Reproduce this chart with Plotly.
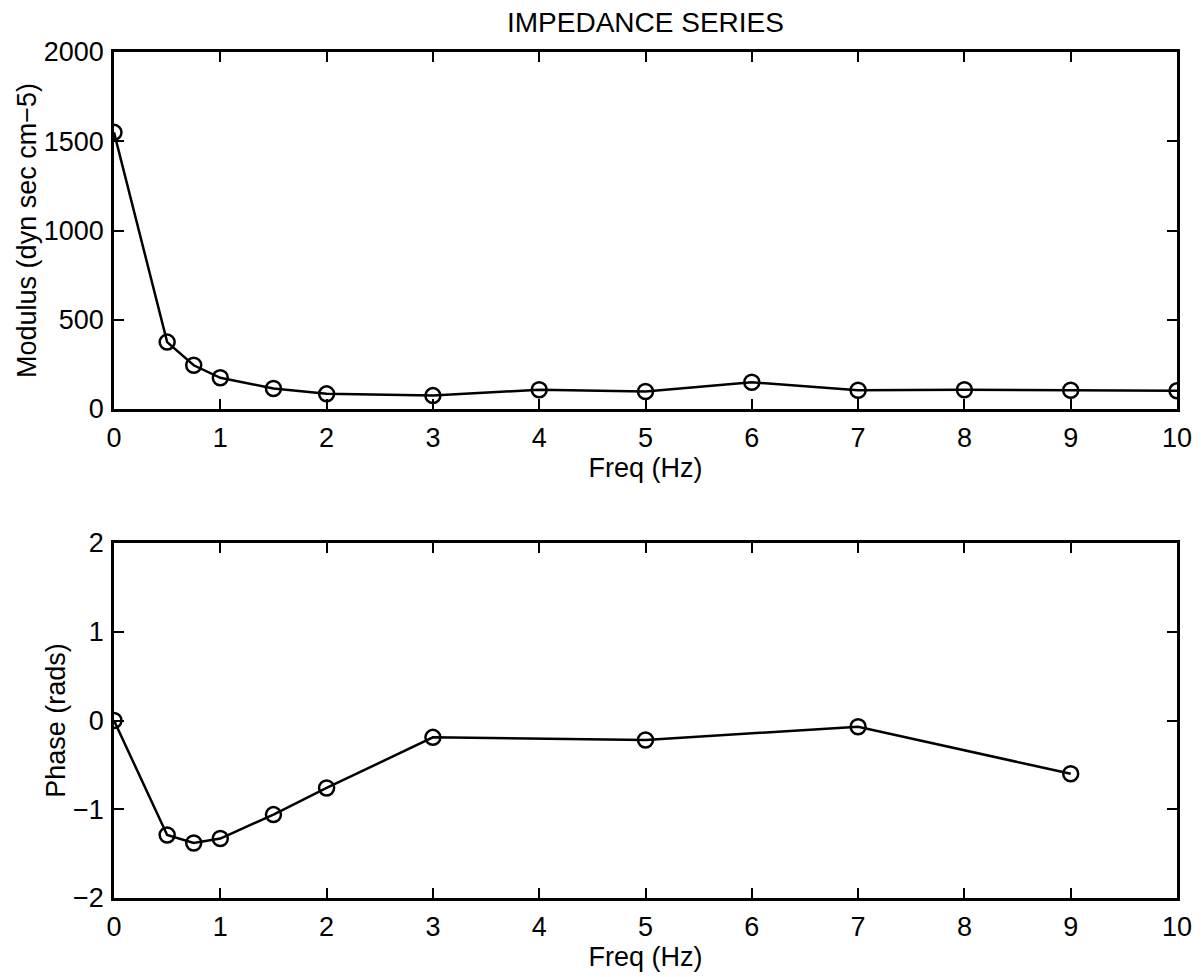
import plotly.graph_objects as go
from plotly.subplots import make_subplots

# Impedance series: modulus and phase against frequency
mod_freq = [0, 0.5, 0.75, 1, 1.5, 2, 3, 4, 5, 6, 7, 8, 9, 10]
modulus = [1550, 375, 245, 175, 115, 85, 75, 108, 98, 150, 105, 108, 105, 102]

phase_freq = [0, 0.5, 0.75, 1, 1.5, 2, 3, 5, 7, 9]
phase = [0.0, -1.29, -1.38, -1.33, -1.06, -0.76, -0.19, -0.22, -0.07, -0.6]

x_ticks = list(range(0, 11))
mod_ticks = [0, 500, 1000, 1500, 2000]
phase_ticks = [-2, -1, 0, 1, 2]
phase_ticktext = ["\u22122", "\u22121", "0", "1", "2"]

FONT = "Liberation Sans"
FS = 27

fig = make_subplots(rows=2, cols=1, vertical_spacing=0.0)

line_style = dict(color="black", width=2.5)
marker_style = dict(symbol="circle-open", size=15, color="black",
                    line=dict(color="black", width=2.5))

fig.add_trace(go.Scatter(x=mod_freq, y=modulus, mode="lines+markers",
                         line=line_style, marker=marker_style,
                         showlegend=False), row=1, col=1)
fig.add_trace(go.Scatter(x=phase_freq, y=phase, mode="lines+markers",
                         line=line_style, marker=marker_style,
                         showlegend=False), row=2, col=1)

axis_common = dict(showline=True, linecolor="black", linewidth=2.5,
                   mirror="ticks", ticks="inside", ticklen=10,
                   tickwidth=2, tickcolor="black", showgrid=False,
                   zeroline=False,
                   tickfont=dict(family=FONT, size=FS, color="black"))

title_font = dict(family=FONT, size=FS, color="black")

fig.update_xaxes(range=[0, 10], tickvals=x_ticks, ticklabelstandoff=3,
                 title=dict(text="Freq (Hz)", standoff=0, font=title_font),
                 **axis_common)

fig.update_yaxes(range=[0, 2000], tickvals=mod_ticks, row=1, col=1,
                 ticklabelstandoff=2,
                 title=dict(text="Modulus (dyn sec cm\u22125)", standoff=0,
                            font=title_font),
                 **axis_common)
fig.update_yaxes(range=[-2, 2], tickvals=phase_ticks, ticktext=phase_ticktext,
                 row=2, col=1, ticklabelstandoff=2,
                 title=dict(text="Phase (rads)", standoff=0, font=title_font),
                 **axis_common)

fig.update_layout(
    width=1204, height=977,
    margin=dict(l=114, r=25, t=52, b=79),
    paper_bgcolor="white", plot_bgcolor="white",
    title=dict(text="IMPEDANCE SERIES", x=0.5, xanchor="center",
               xref="paper", yref="container",
               y=1 - 22 / 977, yanchor="middle",
               font=dict(family=FONT, size=28, color="black")),
)
fig.layout.yaxis.domain = [0.578, 1.0]
fig.layout.yaxis2.domain = [0.0, 0.4196]

fig.write_html("out.html")
